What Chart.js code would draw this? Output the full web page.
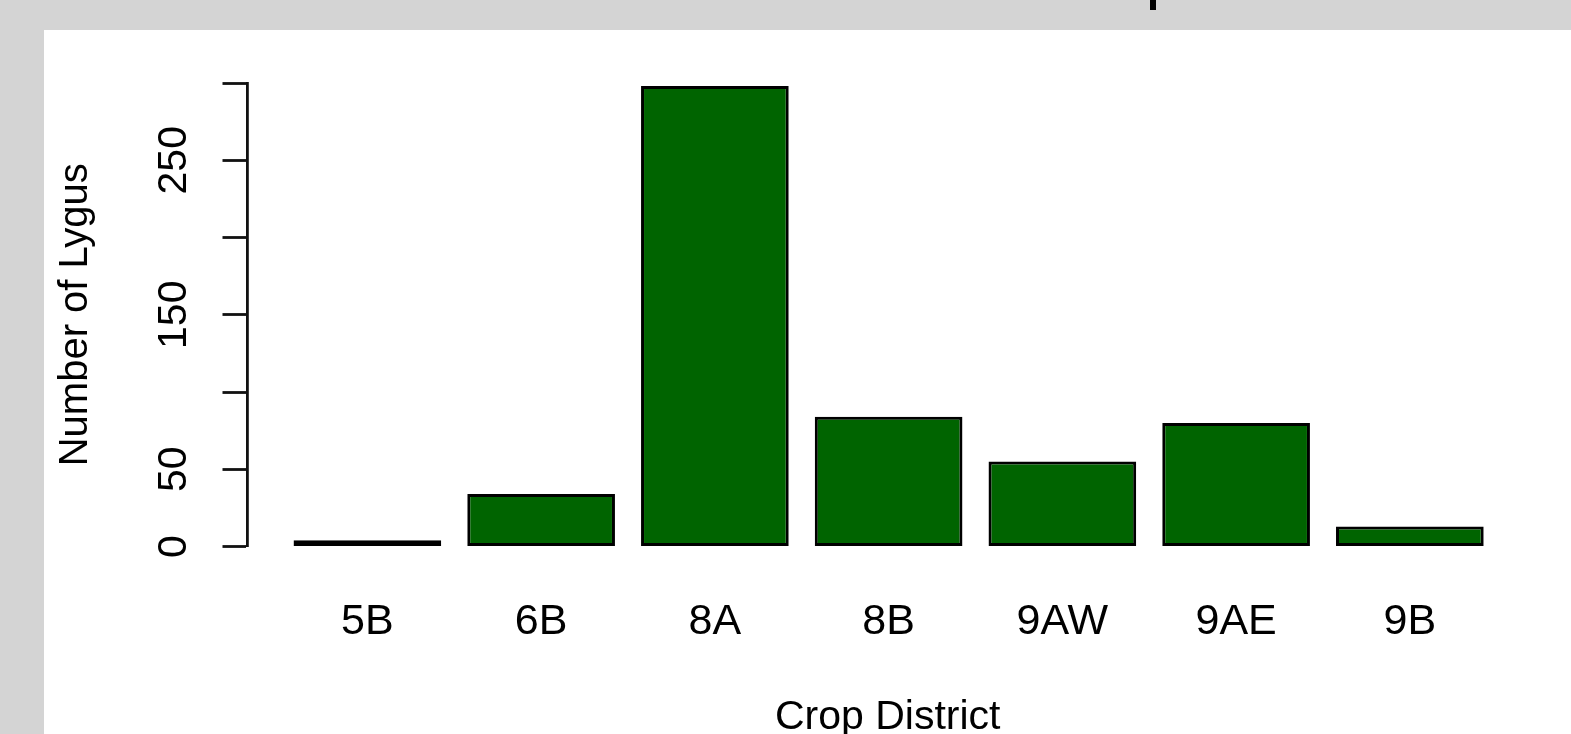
<!DOCTYPE html>
<html>
<head>
<meta charset="utf-8">
<script src="https://cdn.jsdelivr.net/npm/chart.js@4/dist/chart.umd.min.js"></script>
<style>
    html, body { margin: 0; padding: 0; width: 1571px; height: 734px; overflow: hidden; background: #d4d4d4; }
    #panel { position: absolute; left: 44px; top: 30px; width: 1527px; height: 704px; background: #fff; }
    #mark { position: absolute; left: 1150px; top: 0; width: 6px; height: 10px; background: #000; }
</style>
</head>
<body>
<div id="mark"></div>
<div id="panel"><canvas id="lygusChart" width="1527" height="704"></canvas></div>
<script>
const districts = ['5B', '6B', '8A', '8B', '9AW', '9AE', '9B'];
const lygusCounts = [4, 34, 298, 84, 55, 80, 13];
const yTicks = [0, 50, 100, 150, 200, 250, 300];
const yTickLabels = ['0', '50', '', '150', '', '250', ''];

const FONT = '"Liberation Sans", Arial, sans-serif';
const INK = '#111';

new Chart(document.getElementById('lygusChart').getContext('2d'), {
    type: 'bar',
    data: {
        datasets: [{
            data: lygusCounts.map((v, i) => ({ x: i, y: v })),
            backgroundColor: '#006400',
            borderColor: '#000',
            borderWidth: 3,
            borderSkipped: false,
            barPercentage: 0.85,
            categoryPercentage: 1
        }]
    },
    options: {
        responsive: false,
        animation: false,
        devicePixelRatio: 1,
        layout: { padding: { top: 53, right: 43, left: 0, bottom: 0 } },
        plugins: {
            legend: { display: false },
            tooltip: { enabled: false }
        },
        scales: {
            x: {
                type: 'linear',
                min: -0.69,
                max: 6.68,
                offset: false,
                grid: { display: false },
                border: { display: false },
                afterBuildTicks: s => { s.ticks = districts.map((d, i) => ({ value: i })); },
                afterFit: s => { s.height = 187.5; },
                ticks: {
                    autoSkip: false,
                    maxRotation: 0,
                    padding: 42,
                    color: '#000',
                    font: { family: FONT, size: 43 },
                    callback: v => districts[v]
                },
                title: {
                    display: true,
                    text: 'Crop District',
                    color: '#000',
                    font: { family: FONT, size: 41, lineHeight: 0.8 },
                    padding: { top: 0, bottom: 0 }
                }
            },
            y: {
                min: 0,
                max: 300,
                afterBuildTicks: s => { s.ticks = yTicks.map(v => ({ value: v })); },
                afterFit: s => { s.width = 203.5; },
                grid: {
                    drawOnChartArea: false,
                    drawTicks: true,
                    tickLength: 25,
                    tickColor: INK,
                    tickWidth: 2.8
                },
                border: { display: true, color: INK, width: 2.8 },
                ticks: {
                    autoSkip: false,
                    minRotation: 90,
                    maxRotation: 90,
                    crossAlign: 'center',
                    padding: 14,
                    color: '#000',
                    font: { family: FONT, size: 41 },
                    callback: (v, i) => yTickLabels[i]
                },
                title: {
                    display: true,
                    text: 'Number of Lygus',
                    color: '#000',
                    font: { family: FONT, size: 40, lineHeight: 1 },
                    padding: { top: 11.5, bottom: 0 }
                }
            }
        }
    }
});
</script>
</body>
</html>
